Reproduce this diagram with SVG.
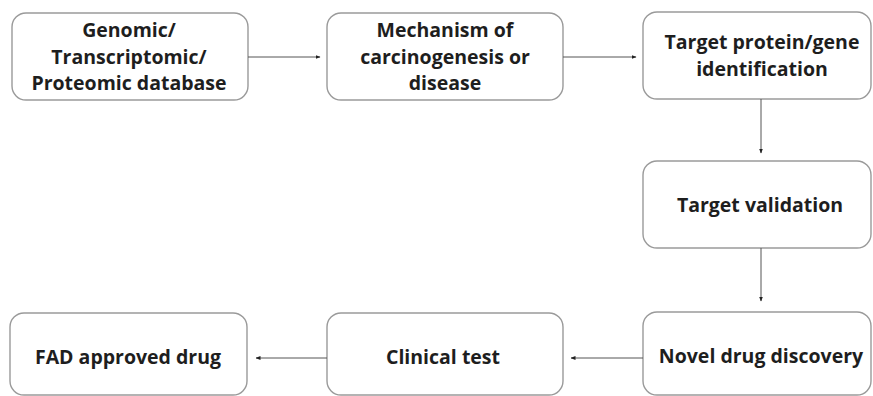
<svg xmlns="http://www.w3.org/2000/svg" width="873" height="396" viewBox="0 0 873 396">
  <defs>
    <marker id="arrow" viewBox="0 0 10 10" refX="9" refY="5" markerWidth="5" markerHeight="5" orient="auto" markerUnits="userSpaceOnUse">
      <path d="M0,1 L10,5 L0,9 z" fill="#222"/>
    </marker>
    <style>
      .box { fill: #ffffff; stroke: #9a9a9a; stroke-width: 1.4; }
      .label { font-family: "Open Sans", "Liberation Sans", sans-serif; font-weight: 700; font-size: 19.5px; fill: #1e1e1e; text-anchor: middle; }
      .link { fill: none; stroke: #555555; stroke-width: 1; marker-end: url(#arrow); }
    </style>
  </defs>
  <rect width="873" height="396" fill="#ffffff"/>

  <g id="node-database">
    <rect class="box" x="12" y="13" width="236" height="87" rx="14"/>
    <text class="label" x="129" y="37">Genomic/</text>
    <text class="label" x="129" y="64">Transcriptomic/</text>
    <text class="label" x="129" y="90">Proteomic database</text>
  </g>

  <g id="node-mechanism">
    <rect class="box" x="327" y="13" width="236" height="87" rx="14"/>
    <text class="label" x="445" y="37">Mechanism of</text>
    <text class="label" x="445" y="64">carcinogenesis or</text>
    <text class="label" x="445" y="90">disease</text>
  </g>

  <g id="node-target-id">
    <rect class="box" x="643" y="12" width="228" height="87" rx="14"/>
    <text class="label" x="762" y="49">Target protein/gene</text>
    <text class="label" x="762" y="76">identification</text>
  </g>

  <g id="node-validation">
    <rect class="box" x="643" y="161" width="228" height="87" rx="14"/>
    <text class="label" x="760" y="212">Target validation</text>
  </g>

  <g id="node-discovery">
    <rect class="box" x="643" y="312" width="228" height="83" rx="14"/>
    <text class="label" x="761" y="363">Novel drug discovery</text>
  </g>

  <g id="node-clinical">
    <rect class="box" x="327" y="313" width="236" height="82" rx="14"/>
    <text class="label" x="443" y="364">Clinical test</text>
  </g>

  <g id="node-fda">
    <rect class="box" x="10" y="313" width="237" height="82" rx="14"/>
    <text class="label" x="128" y="364">FAD approved drug</text>
  </g>

  <g id="connectors">
    <line class="link" x1="248" y1="57" x2="320" y2="57"/>
    <line class="link" x1="563" y1="57" x2="636" y2="57"/>
    <line class="link" x1="761" y1="99" x2="761" y2="153"/>
    <line class="link" x1="761" y1="248" x2="761" y2="301"/>
    <line class="link" x1="643" y1="358" x2="571" y2="358"/>
    <line class="link" x1="327" y1="358" x2="256" y2="358"/>
  </g>
</svg>
